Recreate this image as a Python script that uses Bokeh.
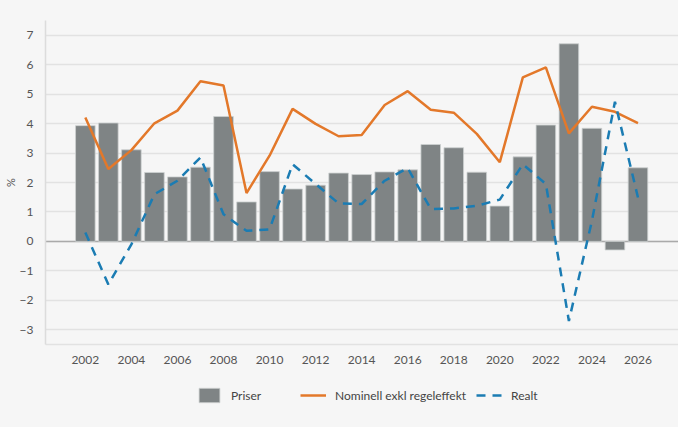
from bokeh.plotting import figure
from bokeh.models import Range1d, FixedTicker, Span, Legend, LegendItem
from bokeh.layouts import column
from bokeh.embed import file_html
from bokeh.resources import INLINE

years = list(range(2002, 2027))
priser = [3.93, 4.02, 3.11, 2.34, 2.19, 2.52, 4.24, 1.34, 2.37, 1.78, 1.91, 2.32,
          2.27, 2.36, 2.43, 3.29, 3.18, 2.35, 1.20, 2.87, 3.95, 6.71, 3.84, -0.29, 2.50]
nominell = [4.21, 2.46, 3.10, 4.01, 4.44, 5.44, 5.29, 1.64, 2.91, 4.50, 3.99, 3.57,
            3.61, 4.63, 5.10, 4.47, 4.37, 3.65, 2.69, 5.57, 5.91, 3.67, 4.57, 4.40, 4.02]
realt = [0.30, -1.46, -0.10, 1.60, 2.06, 2.85, 0.92, 0.36, 0.41, 2.62, 1.95, 1.29,
         1.27, 2.06, 2.49, 1.10, 1.12, 1.21, 1.42, 2.62, 1.95, -2.70, 0.70, 4.74, 1.49]
x_ticks = list(range(2002, 2027, 2))
y_ticks = [-3, -2, -1, 0, 1, 2, 3, 4, 5, 6, 7]
labels = ["Priser", "Nominell exkl regeleffekt", "Realt"]

FONT = "Lato"
BG = "#f6f6f6"
BAR = dict(fill_color="#7f8485", line_color="#cdd0d0", line_width=0.8)
NOM = dict(line_color="#e3782a", line_width=2.5)
REA = dict(line_color="#1b7cb3", line_width=2.5, line_dash="9 7")

p = figure(width=678, height=376, output_backend="svg", toolbar_location=None,
           x_range=Range1d(2000.27, 2027.76), y_range=Range1d(-3.5, 7.5),
           min_border_left=43, min_border_right=0, min_border_top=20, min_border_bottom=32)
p.background_fill_color = BG
p.border_fill_color = BG
p.outline_line_color = None

p.xgrid.grid_line_color = None
p.ygrid.grid_line_color = "#e2e2e2"
p.ygrid.grid_line_width = 1.5
p.ygrid.ticker = FixedTicker(ticks=y_ticks)

p.yaxis.ticker = FixedTicker(ticks=y_ticks)
p.yaxis.axis_label = "%"
p.yaxis.axis_label_text_font = FONT
p.yaxis.axis_label_text_font_style = "normal"
p.yaxis.axis_label_text_font_size = "11px"
p.yaxis.axis_label_text_color = "#555555"
p.yaxis.axis_label_standoff = 0
p.yaxis.axis_line_color = "#dcdcdc"
p.yaxis.axis_line_width = 1.5
p.yaxis.major_tick_line_color = None
p.yaxis.minor_tick_line_color = None
p.yaxis.major_label_standoff = 6
p.yaxis.major_label_text_font = FONT
p.yaxis.major_label_text_font_size = "12px"
p.yaxis.major_label_text_color = "#555555"

p.xaxis.ticker = FixedTicker(ticks=x_ticks)
p.xaxis.axis_line_color = "#e2e2e2"
p.xaxis.axis_line_width = 1.5
p.xaxis.major_tick_line_color = None
p.xaxis.minor_tick_line_color = None
p.xaxis.major_label_standoff = 5
p.xaxis.major_label_text_font = FONT
p.xaxis.major_label_text_font_size = "12px"
p.xaxis.major_label_text_color = "#555555"

zero = Span(location=0, dimension="width", line_color="#aaaaaa", line_width=1.5, level="underlay")
p.add_layout(zero)

p.vbar(x=years, top=priser, width=0.85, **BAR)
p.line(years, nominell, **NOM)
p.line(years, realt, **REA)

# legend strip below the chart (series drawn out of view; only the legend shows)
lg = figure(width=678, height=51, output_backend="svg", toolbar_location=None,
            x_range=Range1d(0, 1), y_range=Range1d(0, 1),
            x_axis_location=None, y_axis_location=None, frame_align=False,
            min_border_left=0, min_border_right=0, min_border_top=0, min_border_bottom=0)
lg.background_fill_color = BG
lg.border_fill_color = BG
lg.outline_line_color = None
lg.xgrid.visible = False
lg.ygrid.visible = False
r1 = lg.vbar(x=years, top=priser, width=0.85, **BAR)
r2 = lg.line(years, nominell, **NOM)
r3 = lg.line(years, realt, **REA)

leg = Legend(items=[LegendItem(label=labels[0], renderers=[r1]),
                    LegendItem(label=labels[1], renderers=[r2]),
                    LegendItem(label=labels[2], renderers=[r3])],
             location=(196, 23), orientation="horizontal", glyph_width=26, glyph_height=18,
             label_standoff=9, label_width=59, label_height=18, padding=0, margin=0,
             spacing=10, border_line_color=None, background_fill_alpha=0,
             label_text_font=FONT, label_text_font_size="12px", label_text_color="#444444")
lg.add_layout(leg)

layout = column(p, lg, spacing=0, styles={"background-color": BG})
open("out.html", "w").write(file_html(layout, INLINE))
